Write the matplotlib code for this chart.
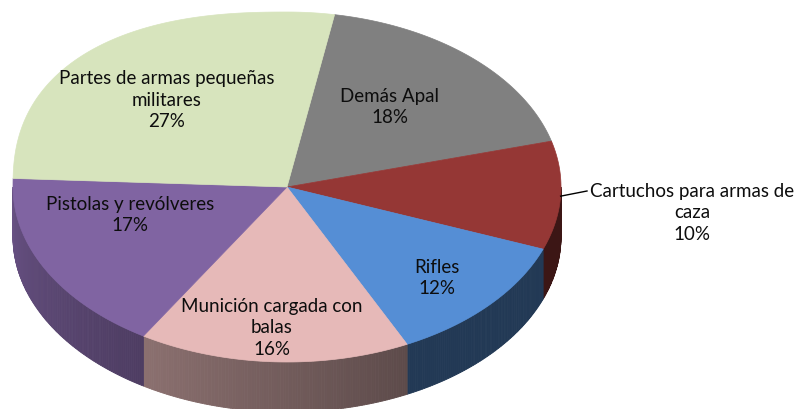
import numpy as np
import matplotlib.pyplot as plt
from matplotlib.patches import Polygon

# Participación por tipo de producto (sentido horario desde arriba)
labels = ["Demás Apal", "Cartuchos para armas de\ncaza", "Rifles",
          "Munición cargada con\nbalas", "Pistolas y revólveres",
          "Partes de armas pequeñas\nmilitares"]
shares = [18, 10, 12, 16, 17, 27]
colors = ["#808080", "#953735", "#558ED5", "#E6B9B8", "#8064A2", "#D7E4BD"]

# geometría del pastel en píxeles
CX, CY, RX, RY, DEPTH = 287, 188, 274, 175, 50
START = 80

# centros de las etiquetas
label_xy = [(390, 107), (692, 213), (437, 278), (272, 328), (130, 215), (167, 100)]


def rim(theta):
    t = np.radians(np.atleast_1d(theta))
    c, s = np.cos(t), np.sin(t)
    n = np.where((c < 0) & (s > 0), 2.4, 2.0)
    r = (np.abs(c) ** n + np.abs(s) ** n) ** (-1 / n)
    return CX + RX * r * c, CY - RY * r * s


def shade(theta):
    # más claro a la izquierda, más oscuro hacia la derecha
    return max(0.4, 0.4 + 0.41 * (-63 - theta) / 117)


bounds = START - 360 * np.cumsum([0] + shares) / 100

fig = plt.figure(figsize=(7.95, 4.10), dpi=100)
ax = fig.add_axes([0, 0, 1, 1])
ax.set_xlim(0, 795)
ax.set_ylim(410, 0)
ax.axis("off")

# paredes laterales (solo la parte frontal)
for i in range(len(shares)):
    t0, t1 = bounds[i], bounds[i + 1]
    hi, lo = min(t0, 0), max(t1, -180)
    if hi <= lo:
        continue
    base = np.array(plt.matplotlib.colors.to_rgb(colors[i]))
    steps = np.linspace(hi, lo, max(2, int((hi - lo) * 2)))
    for a, b in zip(steps[:-1], steps[1:]):
        xa, ya = rim(a)
        xb, yb = rim(b)
        quad = [(xa[0], ya[0]), (xb[0], yb[0]),
                (xb[0], yb[0] + DEPTH), (xa[0], ya[0] + DEPTH)]
        col = np.clip(base * shade((a + b) / 2), 0, 1)
        ax.add_patch(Polygon(quad, closed=True, facecolor=col,
                             edgecolor=col, lw=0.6))

# caras superiores
for i in range(len(shares)):
    th = np.linspace(bounds[i], bounds[i + 1], 200)
    xs, ys = rim(th)
    pts = [(CX, CY)] + list(zip(xs, ys))
    ax.add_patch(Polygon(pts, closed=True, facecolor=colors[i],
                         edgecolor=colors[i], lw=0.5))

# etiquetas
for lab, val, (x, y) in zip(labels, shares, label_xy):
    ax.text(x, y, f"{lab}\n{val}%", ha="center", va="center",
            fontsize=13.5, family="Lato", linespacing=1.29, color="#0d0d0d")

# línea guía de Cartuchos
lx, ly = rim(-3)
ax.plot([lx[0], 587], [ly[0], 192], color="black", lw=1)

fig.savefig("out.png", dpi=100)
